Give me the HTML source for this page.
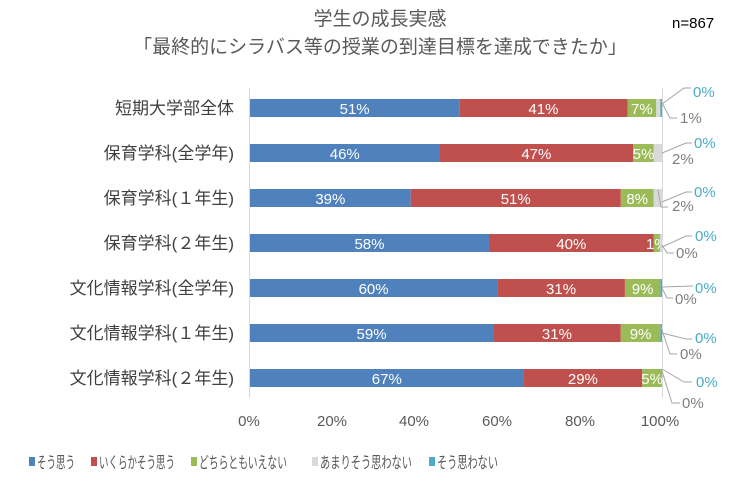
<!DOCTYPE html>
<html><head><meta charset="utf-8"><style>
body{margin:0;background:#fff}
svg{display:block;font-family:"Liberation Sans","Noto Sans CJK JP",sans-serif}
</style></head><body>
<svg width="743" height="486" viewBox="0 0 743 486">
<text x="380" y="25" font-size="19" fill="#595959" text-anchor="middle">学生の成長実感</text>
<text x="380" y="53" font-size="19" fill="#595959" text-anchor="middle">「最終的にシラバス等の授業の到達目標を達成できたか」</text>
<text x="672" y="28" font-size="15" fill="#000">n=867</text>
<g stroke="#d9d9d9" stroke-width="1">
<line x1="249.5" y1="88" x2="249.5" y2="398"/>
<line x1="662.5" y1="88" x2="662.5" y2="398"/>
</g>
<g id="bars"></g>
<g font-size="15" fill="#595959" text-anchor="middle">
<text x="249" y="426">0%</text><text x="332" y="426">20%</text><text x="414" y="426">40%</text><text x="497" y="426">60%</text><text x="580" y="426">80%</text><text x="660" y="426">100%</text>
</g>
<g font-size="17" fill="#404040" text-anchor="end">
<text x="234" y="114">短期大学部全体</text>
<text x="234" y="159">保育学科(全学年)</text>
<text x="234" y="204">保育学科(１年生)</text>
<text x="234" y="249">保育学科(２年生)</text>
<text x="234" y="294">文化情報学科(全学年)</text>
<text x="234" y="339">文化情報学科(１年生)</text>
<text x="234" y="384">文化情報学科(２年生)</text>
</g>
<g font-size="15">
<text x="693" y="97" fill="#4bacc6">0%</text><text x="680" y="123" fill="#808080">1%</text>
<text x="694" y="148" fill="#4bacc6">0%</text><text x="672" y="164" fill="#808080">2%</text>
<text x="694" y="197" fill="#4bacc6">0%</text><text x="672" y="211" fill="#808080">2%</text>
<text x="695" y="241" fill="#4bacc6">0%</text><text x="676" y="258" fill="#808080">0%</text>
<text x="695" y="293" fill="#4bacc6">0%</text><text x="675" y="304" fill="#808080">0%</text>
<text x="695" y="343" fill="#4bacc6">0%</text><text x="680" y="359" fill="#808080">0%</text>
<text x="696" y="387" fill="#4bacc6">0%</text><text x="682" y="408" fill="#808080">0%</text>
</g>
<g stroke="#a6a6a6" fill="none" stroke-width="1">
<polyline points="662,104 684,88 691,88"/><polyline points="660,99 670,118 677,118"/>
<polyline points="662,153 686,143 692,143"/>
<polyline points="662,202 686,192 692,192"/><polyline points="658,190 661,207 668,207"/>
<polyline points="662,247 686,236 692,236"/><polyline points="662,245 667,253 674,253"/>
<polyline points="662,287 693,286"/><polyline points="662,288 667,298 673,298"/>
<polyline points="662,333 686,339 692,339"/><polyline points="660,324 670,354 677,354"/>
<polyline points="662,369 684,382 692,382"/><polyline points="662,371 672,403 680,403"/>
</g>
<g font-size="16" fill="#595959">
<rect x="29" y="457" width="6" height="9" fill="#4f81bd"/><text x="37" y="468" textLength="38" lengthAdjust="spacingAndGlyphs">そう思う</text>
<rect x="91" y="457" width="6" height="9" fill="#c0504d"/><text x="99" y="468" textLength="76" lengthAdjust="spacingAndGlyphs">いくらかそう思う</text>
<rect x="191" y="457" width="6" height="9" fill="#9bbb59"/><text x="199" y="468" textLength="88" lengthAdjust="spacingAndGlyphs">どちらともいえない</text>
<rect x="312" y="457" width="6" height="9" fill="#d9d9d9"/><text x="320" y="468" textLength="92" lengthAdjust="spacingAndGlyphs">あまりそう思わない</text>
<rect x="429" y="457" width="6" height="9" fill="#4bacc6"/><text x="437" y="468" textLength="61" lengthAdjust="spacingAndGlyphs">そう思わない</text>
</g>
</svg>
<script>
var d=[[51,41,7,1,0.4],[46,47,5,2,0],[39,51,8,2,0],[58,40,1.5,0.5,0],[60,31,8.6,0,0.4],[59,31,9.6,0,0.4],[66.4,28.8,4.8,0,0]];
var lab=[["51%","41%","7%"],["46%","47%","5%"],["39%","51%","8%"],["58%","40%","1%"],["60%","31%","9%"],["59%","31%","9%"],["67%","29%","5%"]];
var c=["#4f81bd","#c0504d","#9bbb59","#d9d9d9","#4bacc6"];
var g=document.getElementById("bars"),h="";
d.forEach(function(r,i){var y=99+45*i,x=250,s=r.reduce(function(a,b){return a+b},0);
r.forEach(function(v,j){var w=v/s*412;h+='<rect x="'+x+'" y="'+y+'" width="'+w+'" height="18" fill="'+c[j]+'"/>';
if(j<3)h+='<text x="'+(x+w/2)+'" y="'+(y+15)+'" font-size="15" fill="#fff" text-anchor="middle">'+lab[i][j]+'</text>';x+=w;});});
g.innerHTML=h;
</script>
</body></html>
